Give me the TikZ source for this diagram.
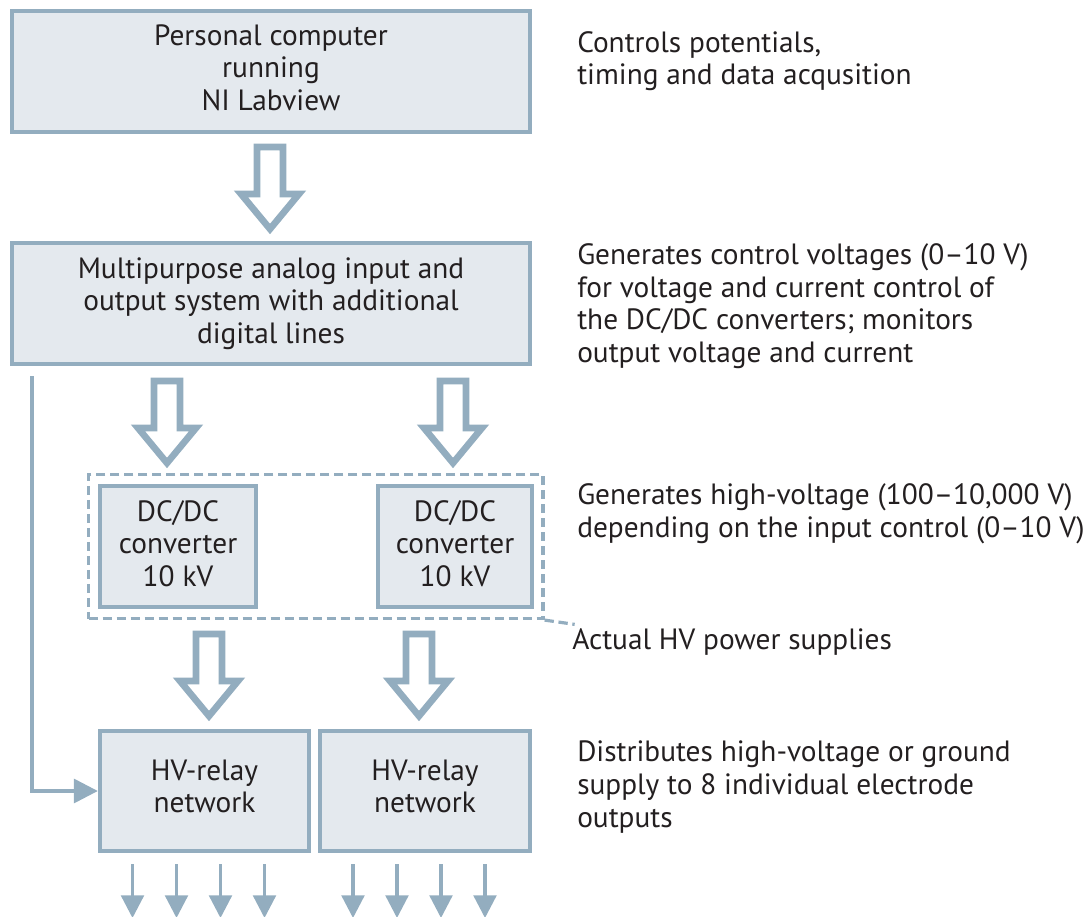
\documentclass[tikz,border=0pt]{standalone}
\usepackage{fontspec}
\setmainfont{PT Sans}
\usetikzlibrary{positioning,fit,arrows.meta,calc}

\definecolor{edgeblue}{HTML}{93ADBF}
\definecolor{boxfill}{HTML}{E4E9EE}
\definecolor{inkgray}{HTML}{231F20}

\tikzset{
	block/.style={draw=edgeblue, fill=boxfill, line width=3pt, align=center, text=inkgray, inner sep=0pt},
	note/.style={anchor=west, align=left, text=inkgray, inner sep=0pt},
	feed/.style={draw=edgeblue, line width=2.5pt, -{Triangle[length=18pt,width=18pt]}},
	outlet/.style={draw=edgeblue, line width=2.5pt, -{Triangle[length=17pt,width=17pt]}},
	frame/.style={draw=edgeblue, line width=2.4pt, dash pattern=on 7pt off 3.5pt},
	hollow/.pic={\draw[draw=edgeblue, fill=white, line width=5pt, line join=miter]
		(-13,0) -- (-13,47) -- (-29,47) -- (0,82) -- (29,47) -- (13,47) -- (13,0) -- cycle;}
}

\begin{document}
\begin{tikzpicture}[x=0.75pt,y=-0.75pt,font=\fontsize{22}{24.5}\selectfont]
	\useasboundingbox (0,0) rectangle (1090,917);

	% left column
	\node[block, minimum width=389pt, minimum height=91pt, text depth=6pt] (pc) at (271,71.5) {Personal computer\\running\\NI Labview};
	\node[block, minimum width=389pt, minimum height=91pt] (daq) at (271,303.5) {Multipurpose analog input and\\output system with additional\\digital lines};

	\node[block, minimum width=117pt, minimum height=91pt, text depth=4.5pt] (dc1) at (178,546.5) {DC/DC\\converter\\10 kV};
	\node[block, minimum width=115pt, minimum height=91pt, text depth=4.5pt] (dc2) at (455,546.5) {DC/DC\\converter\\10 kV};
	\node[frame, fit=(dc1)(dc2), inner sep=7pt] (hvps) {};

	\node[block, minimum width=157pt, minimum height=90pt, text depth=7pt] (hv1) at (204.5,791) {HV-relay\\network};
	\node[block, minimum width=157pt, minimum height=90pt, text depth=7pt] (hv2) at (425,791) {HV-relay\\network};

	% hollow arrows
	\pic at (270,147) {hollow};
	\pic at (167,381) {hollow};
	\pic at (453,381) {hollow};
	\pic at (209,634) {hollow};
	\pic at (419,634) {hollow};

	% control line to relay
	\coordinate (tap) at (32,376);
	\draw[feed] (tap) |- (hv1.west);

	% electrode outputs
	\foreach \i in {-66,-22,22,66} {
		\draw[outlet] (hv1.south) ++(\i-6,11) -- ++(0,54);
		\draw[outlet] (hv2.south) ++(\i-6,11) -- ++(0,54);
	}

	% notes
	\node[note] (n1) at (577,61) {Controls potentials,\\timing and data acqusition};
	\node[note] (n2) at (577,306) {Generates control voltages (0--10 V)\\for voltage and current control of\\the DC/DC converters; monitors\\output voltage and current};
	\node[note] (n3) at (577,514) {Generates high-voltage (100--10,000 V)\\depending on the input control (0--10 V)};
	\node[note] (n4) at (572,642) {Actual HV power supplies};
	\node[note] (n5) at (577,787) {Distributes high-voltage or ground\\supply to 8 individual electrode\\outputs};

	\draw[frame] (hvps.south east) -- ([xshift=2pt,yshift=3pt]n4.north west);
\end{tikzpicture}
\end{document}
